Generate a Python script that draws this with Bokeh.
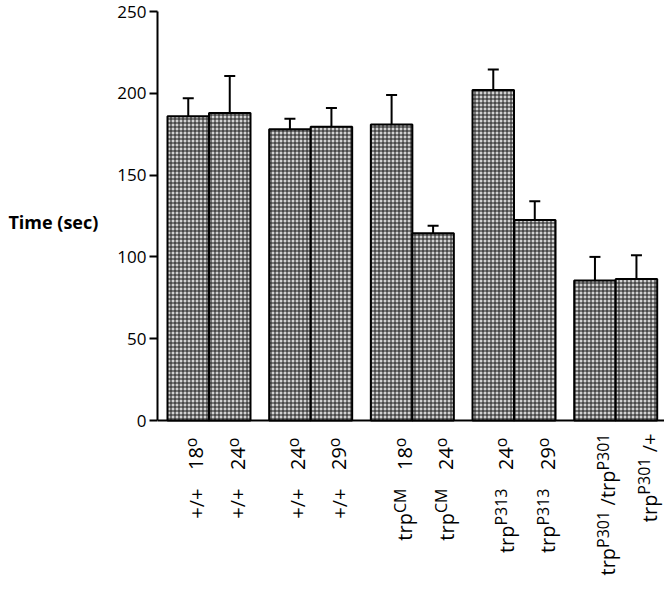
import numpy as np
from bokeh.plotting import figure
from bokeh.layouts import column
from bokeh.models import Range1d, FixedTicker, ColumnDataSource
from bokeh.core.properties import value
from bokeh.embed import file_html
from bokeh.resources import INLINE

# ---------------- data ----------------
means = [186, 188, 178, 179.5, 181, 114.5, 202, 122.5, 85.5, 86.5]
errors = [11, 22.5, 6.5, 11.5, 18, 4.5, 12.5, 11.5, 14.5, 14.5]
group_index = [0, 0, 1, 1, 2, 2, 3, 3, 4, 4]
pos_in_group = [0, 1, 0, 1, 0, 1, 0, 1, 0, 1]
geno_base = ["+/+", "+/+", "+/+", "+/+", "trp", "trp", "trp", "trp", "trp", "trp"]
geno_allele = ["", "", "", "", "CM", "CM", "P313", "P313", "P301", "P301"]
geno_tail = ["", "", "", "", "", "", "", "", "/trp", "/+"]
geno_tail_allele = ["", "", "", "", "", "", "", "", "P301", ""]
temperatures = ["18", "24", "24", "29", "18", "24", "24", "29", "", ""]
y_ticks = [0, 50, 100, 150, 200, 250]
y_label = "Time (sec)"

# ---------------- layout constants (page pixels) ----------------
W = 664
LEFT = 157            # y axis position
TOP = 11              # y = 250
BASE = 420            # y = 0
FRAME_BOTTOM = 431
H_TOP = FRAME_BOTTOM
H_BOT = 157
PXX = 41.5            # px per bar width
PXY = (BASE - TOP) / 250.0
GROUP_PITCH = 2.45
FONT = "Open Sans"
MAIN = 20
SUP = 16

x_start = -10 / PXX
x_end = x_start + (W - LEFT) / PXX
x_range = Range1d(x_start, x_end)

centers = [g * GROUP_PITCH + j + 0.5 for g, j in zip(group_index, pos_in_group)]
tops = [m + e for m, e in zip(means, errors)]

p = figure(width=W, height=H_TOP, output_backend="svg", toolbar_location=None,
           x_range=x_range, y_range=Range1d(-(FRAME_BOTTOM - BASE) / PXY, 250),
           x_axis_location=None, min_border_left=LEFT, min_border_right=0,
           min_border_top=TOP, min_border_bottom=0)
p.outline_line_color = None
p.xgrid.visible = False
p.ygrid.visible = False

ax = p.yaxis[0]
ax.bounds = (0, 250)
ax.ticker = FixedTicker(ticks=y_ticks)
ax.major_tick_out = 8
ax.major_tick_in = 0
ax.minor_tick_out = 0
ax.minor_tick_in = 0
ax.axis_line_width = 2
ax.major_tick_line_width = 2
ax.major_label_text_font = FONT
ax.major_label_text_font_size = "17px"
ax.major_label_text_color = "black"
ax.major_label_standoff = 3
ax.axis_label = y_label
ax.axis_label_orientation = "horizontal"
ax.axis_label_text_font = FONT
ax.axis_label_text_font_size = "18px"
ax.axis_label_text_font_style = "bold"
ax.axis_label_text_color = "black"
ax.axis_label_standoff = 16

# baseline (x axis line)
p.segment(x0=[x_start], y0=[0], x1=[x_end], y1=[0], line_color="black", line_width=2)

# error bars
cap = 5.5 / PXX
p.segment(x0=centers, y0=means, x1=centers, y1=tops, line_color="black", line_width=2)
p.segment(x0=[c - cap for c in centers], y0=tops, x1=[c + cap for c in centers], y1=tops,
          line_color="black", line_width=2)

# bars
p.vbar(x=centers, top=means, bottom=0, width=1.0, fill_color="#d2d2d2",
       hatch_pattern="cross", hatch_color="#1a1a1a", hatch_scale=4, hatch_weight=1,
       line_color="black", line_width=2)

# ---------------- category labels (rotated, with superscripts) ----------------
q = figure(width=W, height=H_BOT, output_backend="svg", toolbar_location=None,
           x_range=x_range, y_range=Range1d(-(FRAME_BOTTOM + H_BOT), -FRAME_BOTTOM),
           x_axis_location=None, y_axis_location=None, min_border_left=LEFT,
           min_border_right=0, min_border_top=0, min_border_bottom=0)
q.outline_line_color = None
q.xgrid.visible = False
q.ygrid.visible = False

WID = {' ': 0.26, '+': 0.571, '/': 0.372, 't': 0.361, 'r': 0.411, 'p': 0.613,
       'C': 0.632, 'M': 0.907, 'P': 0.603, 'o': 0.602}

def tw(s, size):
    return sum(WID.get(c, 0.571) for c in s) * size

main = dict(x=[], y=[], text=[])
sup = dict(x=[], y=[], text=[])

def lay(segs, end_px, xc, shift, raise_px):
    pos = end_px
    for txt, kind in reversed(segs):
        if kind == 2:        # gap of one space
            pos += tw(" ", MAIN)
            continue
        size = SUP if kind == 1 else MAIN
        d = main if kind == 0 else sup
        off = shift if kind == 0 else shift - raise_px
        d["x"].append(xc + off / PXX)
        d["y"].append(-pos)
        d["text"].append(txt)
        pos += tw(txt, size)

for i, xc in enumerate(centers):
    segs = [(geno_base[i], 0)]
    if geno_allele[i]:
        segs.append((geno_allele[i], 1))
    if geno_tail[i]:
        segs.append(("", 2))
        segs.append((geno_tail[i], 0))
    if geno_tail_allele[i]:
        segs.append((geno_tail_allele[i], 1))
    shift = 8 if geno_base[i] == "+/+" else 13
    if temperatures[i]:
        lay([(temperatures[i], 0), ("o", 1)], 437, xc, shift, 5)
        lay(segs, 488, xc, shift, 5)
    else:
        lay(segs, 433, xc, shift, 5)

for d, size in ((main, MAIN), (sup, SUP)):
    q.text(x="x", y="y", text="text", source=ColumnDataSource(d), angle=np.pi / 2,
           text_align="right", text_baseline="alphabetic", text_font=value(FONT),
           text_font_size=value(f"{size}px"), text_color="black")

layout = column(p, q, spacing=0)
open("out.html", "w").write(file_html(layout, INLINE))
